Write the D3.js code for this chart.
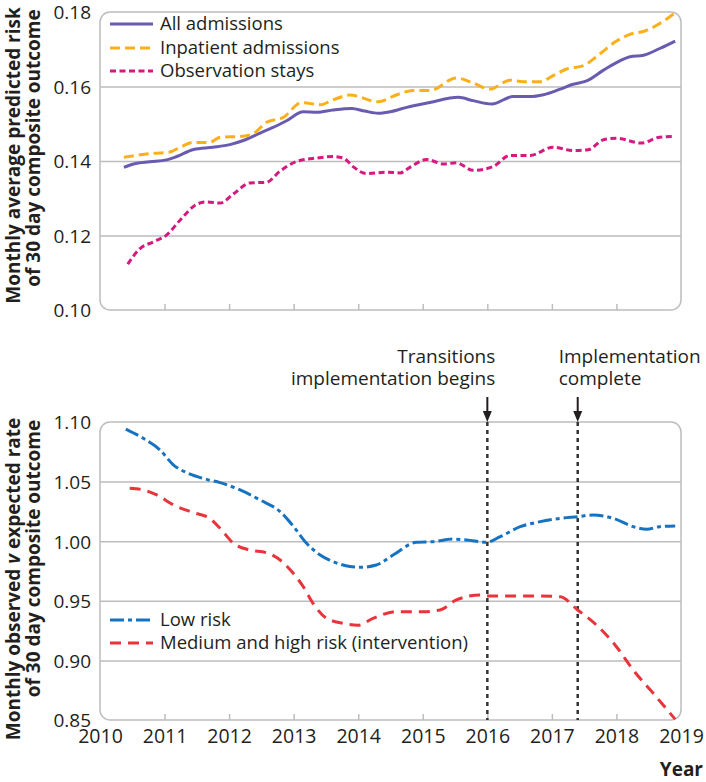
<!DOCTYPE html>
<html>
<head>
<meta charset="utf-8">
<script src="https://cdn.jsdelivr.net/npm/d3@7"></script>
<style>
  html, body { margin: 0; padding: 0; background: #fff; }
  svg { display: block; font-family: "Open Sans", sans-serif; }
</style>
</head>
<body>
<svg id="chart" width="706" height="782"></svg>
<script>
// ---------------- DATA ----------------
const yearTicks = [2010, 2011, 2012, 2013, 2014, 2015, 2016, 2017, 2018, 2019];
const topYTicks = [0.10, 0.12, 0.14, 0.16, 0.18];
const bottomYTicks = [0.85, 0.90, 0.95, 1.00, 1.05, 1.10];

const allAdmYears = [2010.37,2010.52,2010.77,2011.03,2011.19,2011.45,2011.75,2012.01,2012.22,2012.48,2012.68,2012.89,2013.15,2013.36,2013.61,2013.90,2014.10,2014.31,2014.49,2014.75,2015.11,2015.55,2015.78,2016.07,2016.40,2016.66,2016.87,2017.13,2017.33,2017.54,2017.80,2018.00,2018.21,2018.42,2018.67,2018.91];
const allAdmValues = [0.1383,0.1392,0.1398,0.1403,0.1412,0.1431,0.1437,0.1444,0.1455,0.1475,0.1490,0.1508,0.1532,0.1531,0.1537,0.1541,0.1534,0.1528,0.1532,0.1544,0.1557,0.1571,0.1562,0.1553,0.1573,0.1573,0.1578,0.1593,0.1606,0.1615,0.1644,0.1664,0.1680,0.1684,0.1702,0.1722];

const inpatientYears = [2010.37,2010.72,2011.08,2011.24,2011.45,2011.70,2011.86,2012.17,2012.37,2012.58,2012.84,2013.12,2013.41,2013.61,2013.87,2014.31,2014.60,2014.85,2015.11,2015.52,2015.76,2016.04,2016.35,2016.56,2016.82,2017.02,2017.23,2017.49,2017.74,2018.00,2018.21,2018.44,2018.67,2018.91];
const inpatientValues = [0.1410,0.1419,0.1424,0.1437,0.1450,0.1450,0.1464,0.1466,0.1473,0.1504,0.1517,0.1557,0.1551,0.1564,0.1577,0.1559,0.1578,0.1589,0.1589,0.1623,0.1611,0.1593,0.1617,0.1613,0.1613,0.1629,0.1647,0.1656,0.1687,0.1722,0.1740,0.1749,0.1769,0.1798];

const observationYears = [2010.43,2010.62,2010.83,2011.03,2011.24,2011.50,2011.65,2011.86,2012.07,2012.32,2012.58,2012.79,2013.05,2013.36,2013.61,2013.77,2013.92,2014.13,2014.44,2014.65,2014.80,2015.06,2015.32,2015.52,2015.78,2016.09,2016.35,2016.66,2017.02,2017.33,2017.56,2017.80,2018.00,2018.39,2018.67,2018.91];
const observationValues = [0.1123,0.1165,0.1183,0.1201,0.1241,0.1284,0.1290,0.1287,0.1312,0.1341,0.1343,0.1373,0.1399,0.1408,0.1412,0.1408,0.1385,0.1366,0.1370,0.1368,0.1383,0.1404,0.1392,0.1395,0.1375,0.1385,0.1415,0.1415,0.1437,0.1428,0.1430,0.1457,0.1461,0.1448,0.1464,0.1466];

const lowRiskYears = [2010.40,2010.67,2010.93,2011.14,2011.34,2011.65,2011.86,2012.17,2012.48,2012.79,2013.00,2013.20,2013.41,2013.61,2013.85,2014.03,2014.28,2014.54,2014.90,2015.16,2015.47,2015.68,2015.99,2016.20,2016.51,2016.82,2017.13,2017.40,2017.64,2017.95,2018.26,2018.47,2018.67,2018.91];
const lowRiskValues = [1.0941,1.0863,1.0765,1.0639,1.0575,1.0519,1.0491,1.0430,1.0346,1.0248,1.0122,0.9982,0.9884,0.9828,0.9790,0.9781,0.9800,0.9884,0.9991,0.9996,1.0018,1.0010,0.9991,1.0038,1.0122,1.0164,1.0192,1.0206,1.0220,1.0192,1.0122,1.0100,1.0122,1.0127];

const medHighYears = [2010.46,2010.67,2010.88,2011.14,2011.45,2011.70,2011.86,2012.07,2012.32,2012.58,2012.79,2012.97,2013.15,2013.30,2013.51,2013.77,2013.99,2014.23,2014.60,2015.01,2015.27,2015.52,2015.89,2016.04,2016.45,2016.82,2017.13,2017.40,2017.69,2018.00,2018.26,2018.57,2018.91];
const medHighValues = [1.0444,1.0430,1.0388,1.0304,1.0239,1.0192,1.0108,0.9982,0.9926,0.9903,0.9842,0.9745,0.9618,0.9479,0.9353,0.9311,0.9294,0.9353,0.9409,0.9409,0.9423,0.9507,0.9549,0.9540,0.9540,0.9540,0.9534,0.9423,0.9297,0.9115,0.8919,0.8724,0.8506];

const eventYears = [2016.0, 2017.4];
const eventLabelsLeft = ["Transitions", "implementation begins"];
const eventLabelsRight = ["Implementation", "complete"];

// ---------------- LAYOUT ----------------
const svg = d3.select("#chart");
const left = 100, right = 681;
const topPanel = { top: 12, bottom: 310 };
const botPanel = { top: 422, bottom: 720 };
const frameColor = "#bdbdbd";
const textColor = "#231f20";

const x = d3.scaleLinear().domain([2010, 2019]).range([left, right]);
const yTop = d3.scaleLinear().domain([0.10, 0.18]).range([topPanel.bottom, topPanel.top]);
const yBot = d3.scaleLinear().domain([0.85, 1.10]).range([botPanel.bottom, botPanel.top]);

function zip(xs, ys) { return xs.map((d, i) => [d, ys[i]]); }

function drawPanel(yScale, yTicks, panel, showXLabels) {
  const g = svg.append("g");
  const yAxis = d3.axisLeft(yScale).tickValues(yTicks).tickFormat(d3.format(".2f"))
    .tickSize(-(right - left)).tickPadding(9);
  const ya = g.append("g").attr("transform", `translate(${left},0)`).call(yAxis);
  ya.select(".domain").remove();
  ya.selectAll(".tick line").attr("stroke", frameColor).attr("stroke-width", 1.5)
    .attr("opacity", d => (d === yTicks[0] || d === yTicks[yTicks.length - 1]) ? 0 : 1);
  ya.selectAll(".tick text").attr("fill", textColor).attr("dy", "0.36em")
    .style("font-size", "19px").style("font-family", "'Open Sans', sans-serif");

  const xAxis = d3.axisBottom(x).tickValues(yearTicks).tickSize(-6).tickPadding(9)
    .tickFormat(showXLabels ? d3.format("d") : () => "");
  const xa = g.append("g").attr("transform", `translate(0,${panel.bottom})`).call(xAxis);
  xa.select(".domain").remove();
  xa.selectAll(".tick line").attr("stroke", frameColor).attr("stroke-width", 1.5)
    .attr("opacity", d => (d === 2010 || d === 2019) ? 0 : 1);
  xa.selectAll(".tick text").attr("fill", textColor).style("font-size", "19.5px")
    .style("font-family", "'Open Sans', sans-serif");

  g.append("rect").attr("x", left).attr("y", panel.top)
    .attr("width", right - left).attr("height", panel.bottom - panel.top)
    .attr("rx", 10).attr("ry", 10)
    .attr("fill", "none").attr("stroke", frameColor).attr("stroke-width", 1.5);
  return g;
}

drawPanel(yTop, topYTicks, topPanel, false);
drawPanel(yBot, bottomYTicks, botPanel, true);

// event lines (bottom panel)
eventYears.forEach(ev => {
  const ex = x(ev);
  svg.append("line").attr("x1", ex).attr("x2", ex)
    .attr("y1", botPanel.top).attr("y2", botPanel.bottom)
    .attr("stroke", "#333").attr("stroke-width", 2.5).attr("stroke-dasharray", "4,4");
  svg.append("line").attr("x1", ex).attr("x2", ex)
    .attr("y1", 397).attr("y2", 413)
    .attr("stroke", "#231f20").attr("stroke-width", 2);
  svg.append("path")
    .attr("d", `M${ex - 4.5},${411} L${ex + 4.5},${411} L${ex},${botPanel.top} Z`)
    .attr("fill", "#231f20");
});

// annotation text
const annL = svg.append("text").attr("text-anchor", "end").attr("fill", textColor)
  .style("font-size", "19px");
annL.append("tspan").attr("x", x(eventYears[0]) + 8).attr("y", 363).text(eventLabelsLeft[0]);
annL.append("tspan").attr("x", x(eventYears[0]) + 8).attr("y", 385).text(eventLabelsLeft[1]);
const annR = svg.append("text").attr("text-anchor", "start").attr("fill", textColor)
  .style("font-size", "19px");
annR.append("tspan").attr("x", x(eventYears[1]) - 19).attr("y", 363).text(eventLabelsRight[0]);
annR.append("tspan").attr("x", x(eventYears[1]) - 19).attr("y", 385).text(eventLabelsRight[1]);

// series
const series = [
  { name: "All admissions", xs: allAdmYears, ys: allAdmValues, y: yTop, color: "#6a5bb0", dash: null, legendY: 24 },
  { name: "Inpatient admissions", xs: inpatientYears, ys: inpatientValues, y: yTop, color: "#fbb01b", dash: "10,5", legendY: 48 },
  { name: "Observation stays", xs: observationYears, ys: observationValues, y: yTop, color: "#d4197f", dash: "6,3.5", legendY: 71 },
  { name: "Low risk", xs: lowRiskYears, ys: lowRiskValues, y: yBot, color: "#1673c2", dash: "14,4,4,4", legendY: 620 },
  { name: "Medium and high risk (intervention)", xs: medHighYears, ys: medHighValues, y: yBot, color: "#e8343a", dash: "11,7", legendY: 643 }
];

series.forEach(s => {
  const line = d3.line().x(d => x(d[0])).y(d => s.y(d[1])).curve(d3.curveMonotoneX);
  svg.append("path").datum(zip(s.xs, s.ys))
    .attr("d", line)
    .attr("fill", "none").attr("stroke", s.color).attr("stroke-width", 3)
    .attr("stroke-linecap", "butt")
    .attr("stroke-dasharray", s.dash);
  svg.append("line").attr("x1", 110).attr("x2", 153)
    .attr("y1", s.legendY).attr("y2", s.legendY)
    .attr("stroke", s.color).attr("stroke-width", 3)
    .attr("stroke-dasharray", s.dash);
  svg.append("text").attr("x", 160).attr("y", s.legendY).attr("dy", "0.35em")
    .attr("fill", textColor).style("font-size", "18.5px").text(s.name);
});

// axis titles
function yTitle(cx, cy, parts) {
  const t = svg.append("text").attr("transform", `translate(${cx},${cy}) rotate(-90)`)
    .attr("text-anchor", "middle").attr("fill", textColor)
    .style("font-size", "19px").style("font-weight", "bold");
  parts.forEach(p => t.append("tspan").style("font-style", p.italic ? "italic" : "normal").text(p.t));
}
yTitle(20, 155.5, [{ t: "Monthly average predicted risk" }]);
yTitle(39.5, 148, [{ t: "of 30 day composite outcome" }]);
yTitle(20, 579, [{ t: "Monthly observed " }, { t: "v", italic: true }, { t: " expected rate" }]);
yTitle(39.5, 558.5, [{ t: "of 30 day composite outcome" }]);

svg.append("text").attr("x", 703).attr("y", 776).attr("text-anchor", "end")
  .attr("fill", textColor).style("font-size", "19px").style("font-weight", "bold").text("Year");
</script>
</body>
</html>
